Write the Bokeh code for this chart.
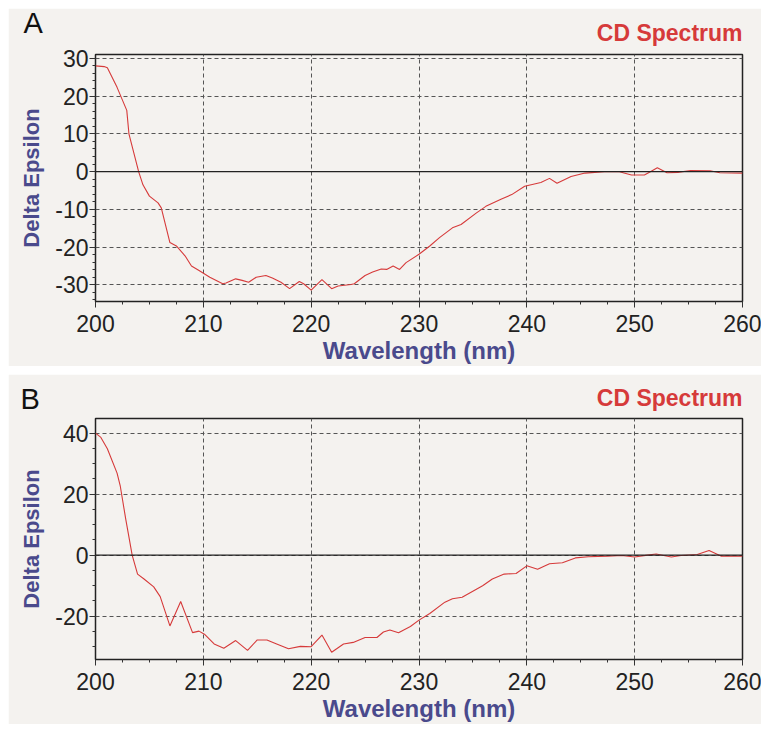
from bokeh.plotting import figure
from bokeh.models import Range1d, Span, Title, SingleIntervalTicker
from bokeh.layouts import column
from bokeh.embed import file_html
from bokeh.resources import INLINE

# Panel A data
wl_a = [200, 200.8, 201.1, 202, 202.9, 203.1, 204, 204.4, 205, 205.8, 206.1, 206.9, 207.5, 208.3,
        208.9, 209.6, 210.6, 211.8, 212.1, 213, 213.6, 214.2, 214.9, 215.8, 216.4, 217.2, 218,
        218.9, 219.3, 220, 221, 221.9, 222.5, 223.7, 224, 225, 225.7, 226.5, 227, 227.6, 228.2,
        228.8, 230, 231, 231.9, 233.1, 233.9, 235.3, 236.2, 237.6, 238.6, 239.8, 240.4, 241.3,
        242.1, 242.8, 244.1, 245.4, 247.2, 248.5, 249.7, 250.9, 251.5, 252.1, 253, 254, 255.2,
        257, 257.9, 260]
de_a = [28, 27.8, 27.5, 22.3, 16.2, 10, 0, -3.5, -6.5, -8.3, -9.6, -18.8, -19.7, -22.3,
        -25, -26.2, -28, -29.7, -29.5, -28.4, -28.8, -29.3, -28, -27.5, -28.2, -29.3, -31,
        -29.1, -29.7, -31.4, -28.6, -31, -30.3, -29.9, -29.7, -27.5, -26.6, -25.8, -25.9, -25, -25.9,
        -24.1, -21.9, -19.7, -17.5, -14.9, -14, -11, -9.2, -7.3, -6.1, -3.9, -3.5, -2.9,
        -1.8, -3.1, -1.3, -0.4, 0, 0, -0.9, -0.9, 0, 1, -0.3, -0.2, 0.3,
        0.2, -0.3, -0.4]

# Panel B data
wl_b = [200, 200.5, 201.1, 202, 202.3, 202.8, 203.4, 203.9, 204.5, 205.4, 206, 206.9, 207.9,
        209, 209.6, 210.1, 211, 211.9, 213, 214.1, 215, 215.9, 216.8, 217.9, 219, 220, 221,
        221.9, 223, 223.9, 225, 226.1, 226.7, 227.3, 228.1, 229.2, 230, 231, 232.4, 233.1, 234,
        235.9, 236.8, 237.9, 239, 240, 241, 242.1, 243.3, 244.5, 245.7, 247.5, 248.8, 250,
        251.2, 252, 253.4, 254.3, 255.8, 256.9, 258, 260]
de_b = [40, 38.6, 34.9, 26.9, 22.6, 11.9, 0, -6.2, -7.8, -10.4, -13.6, -23.2, -15.2,
        -25.4, -24.9, -25.9, -29.1, -30.5, -28, -31.2, -27.8, -27.8, -29.1, -30.7, -29.9, -30, -26.2,
        -31.8, -29.1, -28.6, -27, -27, -25.2, -24.5, -25.4, -23.4, -21.3, -19.1, -15.4, -14.3, -13.8,
        -10, -7.8, -6.2, -6, -3.5, -4.6, -2.8, -2.5, -0.9, -0.5, -0.3, -0.1, -0.6,
        0, 0.4, -0.6, -0.1, 0.2, 1.5, -0.3, -0.3]

x_ticks = [200, 210, 220, 230, 240, 250, 260]
y_ticks_a = [-30, -20, -10, 0, 10, 20, 30]
y_ticks_b = [-20, 0, 20, 40]

BG = "#f4f2ef"
RED = "#d63a3a"
BLUE = "#4a4a8c"
FONT = "Liberation Sans"


def make_panel(wl, de, yr, yint, yminor, yticks, letter, dims, letter_off, cd_standoff, letter_standoff):
    width, height, ml, mr, mt, mb = dims
    p = figure(width=width, height=height, output_backend="svg", toolbar_location=None,
               x_range=Range1d(200, 260), y_range=Range1d(*yr),
               min_border_left=ml, min_border_right=mr, min_border_top=mt, min_border_bottom=mb)
    p.background_fill_color = BG
    p.border_fill_color = BG
    p.outline_line_color = "#222222"
    p.outline_line_width = 1.5

    p.line(wl, de, line_color=RED, line_width=1.1)
    p.add_layout(Span(location=0, dimension="width", line_color="#222222", line_width=1.3))

    p.xaxis.ticker = SingleIntervalTicker(interval=10, num_minor_ticks=4)
    p.yaxis.ticker = SingleIntervalTicker(interval=yint, num_minor_ticks=yminor)
    p.xaxis.major_label_overrides = {t: str(t) for t in x_ticks}
    p.yaxis.major_label_overrides = {t: str(t) for t in yticks}
    for ax in (p.xaxis[0], p.yaxis[0]):
        ax.axis_line_color = "#222222"
        ax.major_tick_line_color = "#333333"
        ax.minor_tick_line_color = "#333333"
        ax.major_tick_out = 6
        ax.major_tick_in = 0
        ax.minor_tick_out = 3
        ax.minor_tick_in = 0
        ax.major_label_text_font = FONT
        ax.major_label_text_font_size = "23px"
        ax.major_label_text_color = "#222222"
        ax.axis_label_text_font = FONT
        ax.axis_label_text_font_style = "bold"
        ax.axis_label_text_color = BLUE
    p.xaxis.axis_label = "Wavelength (nm)"
    p.yaxis.axis_label = "Delta Epsilon"
    p.xaxis.axis_label_text_font_size = "24px"
    p.yaxis.axis_label_text_font_size = "22px"
    p.xaxis.major_label_standoff = 7
    p.xaxis.axis_label_standoff = 2
    p.yaxis.major_label_standoff = 1
    p.yaxis.axis_label_standoff = 8

    for g in (p.xgrid[0], p.ygrid[0]):
        g.grid_line_color = "#555555"
        g.grid_line_dash = "4 3"
        g.grid_line_width = 1

    p.add_layout(Title(text="CD Spectrum", align="right", text_font=FONT, text_font_size="23px",
                       text_font_style="bold", text_color=RED, standoff=cd_standoff), "above")
    p.add_layout(Title(text=letter, align="left", text_font=FONT, text_font_size="29px",
                       text_font_style="normal", text_color="#111111", standoff=letter_standoff,
                       offset=letter_off), "above")
    return p


p1 = make_panel(wl_a, de_a, (-34.4, 31), 10, 5, y_ticks_a, "A",
                (753, 358, 84, 19, 45, 64), -72, 18, -60)
p2 = make_panel(wl_b, de_b, (-34.2, 44.8), 20, 4, y_ticks_b, "B",
                (753, 350, 87, 15, 44, 59), -75, 16, -80)

layout = column(p1, p2, spacing=8, margin=(8, 0, 0, 8))
open("out.html", "w").write(file_html(layout, INLINE))
